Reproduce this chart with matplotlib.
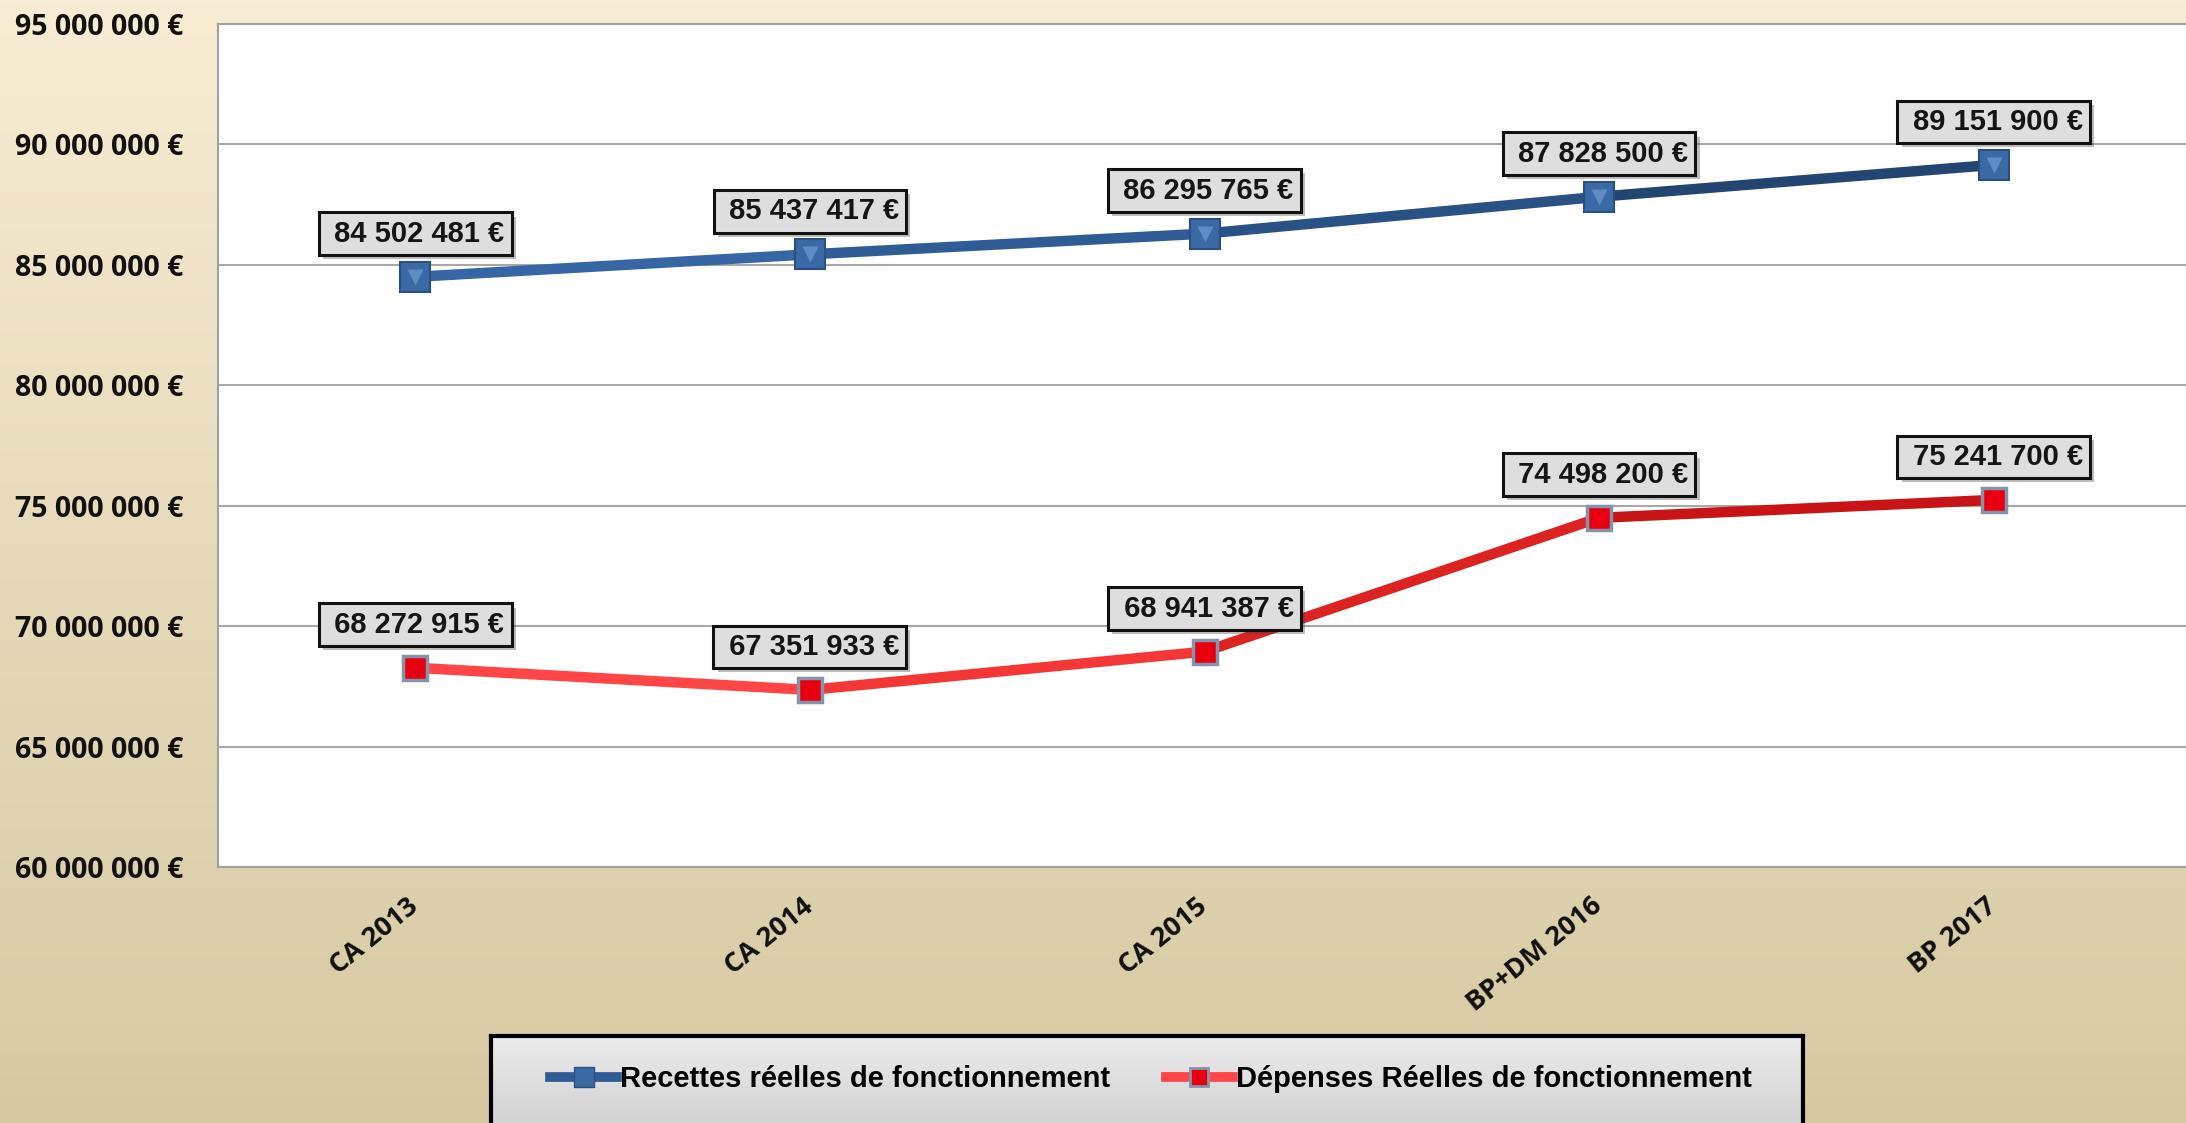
import matplotlib.pyplot as plt
import numpy as np
from matplotlib import patheffects as pe
from matplotlib.lines import Line2D
from matplotlib.font_manager import FontProperties

# data
categories = ["CA 2013", "CA 2014", "CA 2015", "BP+DM 2016", "BP 2017"]
recettes = [84502481, 85437417, 86295765, 87828500, 89151900]
depenses = [68272915, 67351933, 68941387, 74498200, 75241700]
y_ticks = list(range(60_000_000, 95_000_001, 5_000_000))

labels = ["Recettes réelles de fonctionnement", "Dépenses Réelles de fonctionnement"]

# segment colours (gradient look along each line)
recettes_colors = ["#3666a3", "#305c95", "#2a5186", "#234571"]
depenses_colors = ["#ff4545", "#f43636", "#dd2222", "#c81414"]


def euro(v):
    return f"{v:,.0f} €".replace(",", " ")


W, H = 2186, 1123
fig = plt.figure(figsize=(W / 100, H / 100), dpi=100)

# cream background gradient
bg = fig.add_axes([0, 0, 1, 1], zorder=-10)
t = np.linspace(0, 1, 256)[:, None, None]
top = np.array([248, 236, 212]) / 255
bot = np.array([214, 201, 162]) / 255
bg.imshow(top + (bot - top) * t, aspect="auto", extent=[0, 1, 0, 1])
bg.axis("off")

ax = fig.add_axes([218 / W, 1 - 867 / H, (2191 - 218) / W, (867 - 24) / H])
ax.set_facecolor("white")

x = np.arange(len(categories))

# lines drawn segment by segment
for i in range(len(x) - 1):
    ax.plot(x[i:i + 2], recettes[i:i + 2], color=recettes_colors[i], lw=7.5,
            solid_capstyle="round", zorder=3)
    ax.plot(x[i:i + 2], depenses[i:i + 2], color=depenses_colors[i], lw=7.5,
            solid_capstyle="round", zorder=3)

ax.plot(x, recettes, ls="none", marker="s", ms=21, mfc="#3a69a6", mec="#2b4f7f",
        mew=1.5, zorder=4)
ax.plot(x, recettes, ls="none", marker="v", ms=12, mfc="#5e8cc4", mec="none",
        zorder=4)
ax.plot(x, depenses, ls="none", marker="s", ms=17, mfc="#e80010", mec="#8394ad",
        mew=2.5, zorder=4)

# value labels
label_font = FontProperties(family=["Liberation Sans", "DejaVu Sans"], weight="bold", size=21)
for series in (recettes, depenses):
    for xi, v in zip(x, series):
        a = ax.annotate(" " + euro(v), (xi, v), xytext=(0, 31), textcoords="offset points",
                        ha="center", va="center", fontproperties=label_font,
                        color="#151515", zorder=6,
                        bbox=dict(boxstyle="square,pad=0.25", fc="#dedede",
                                  ec="#111111", lw=2.2))
        a.get_bbox_patch().set_path_effects(
            [pe.SimplePatchShadow(offset=(3, -3), alpha=0.35), pe.Normal()])

ax.set_xlim(-0.5, 4.5)
ax.set_ylim(60_000_000, 95_000_000)
ax.set_yticks(y_ticks)
ax.set_yticklabels([euro(v) for v in y_ticks])
ax.set_xticks(x)
ax.set_xticklabels(categories, rotation=39, ha="right", va="center",
                   rotation_mode="anchor")

tick_font = dict(family=["Open Sans", "DejaVu Sans"], weight="bold")
for lab in ax.get_yticklabels():
    lab.set_fontproperties(FontProperties(size=20.5, **tick_font))
for lab in ax.get_xticklabels():
    lab.set_fontproperties(FontProperties(size=19.5, **tick_font))

ax.tick_params(axis="y", length=0, pad=25, colors="#111111")
ax.tick_params(axis="x", length=0, pad=26, colors="#111111")

ax.yaxis.grid(True, color="#a8a8a8", lw=1.5)
ax.set_axisbelow(True)
for side in ("left", "top", "bottom"):
    ax.spines[side].set_color("#a0a0a0")
    ax.spines[side].set_linewidth(1.5)
ax.spines["right"].set_visible(False)

# legend box (gray gradient), runs off the bottom edge
lg_ax = fig.add_axes([491 / W, -0.03, (1803 - 491) / W, 0.03 + 1 - 1036 / H], zorder=1)
g_top = np.array([236, 236, 236]) / 255
g_bot = np.array([200, 200, 200]) / 255
lg_ax.imshow(g_top + (g_bot - g_top) * t, aspect="auto", extent=[0, 1, 0, 1])
lg_ax.set_xticks([])
lg_ax.set_yticks([])
for s in lg_ax.spines.values():
    s.set_color("black")
    s.set_linewidth(3)

handles = [
    Line2D([], [], color=recettes_colors[1], lw=7, marker="s", ms=15,
           mfc="#3a69a6", mec="#2b4f7f"),
    Line2D([], [], color=depenses_colors[0], lw=7, marker="s", ms=13,
           mfc="#e80010", mec="#8394ad", mew=2),
]
leg_font = FontProperties(family=["Liberation Sans", "DejaVu Sans"],
                          weight="bold", size=21)
leg = fig.legend(handles, labels, loc="center", bbox_to_anchor=(1151 / W, 1 - 1079 / H),
                 ncol=2, frameon=False, prop=leg_font, handlelength=2.3,
                 handletextpad=0.1, columnspacing=1.9)
leg.set_zorder(5)

fig.savefig("out.png", dpi=100)
